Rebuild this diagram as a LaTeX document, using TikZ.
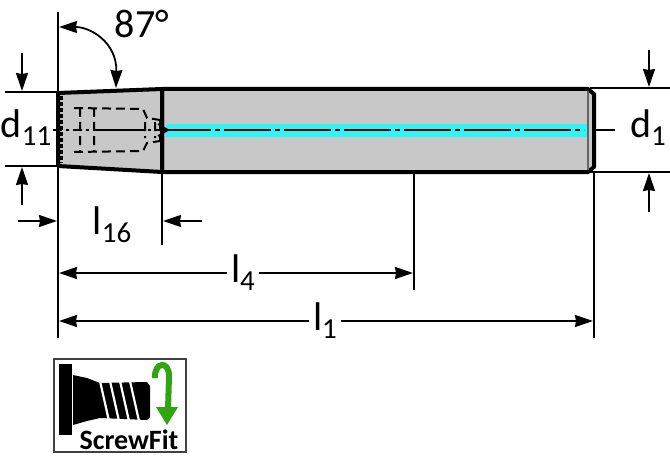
\documentclass[tikz,border=0pt]{standalone}
\usepackage{fontspec}
\setmainfont{Carlito}
\usetikzlibrary{arrows.meta}
\definecolor{bodygray}{HTML}{C8C8C8}
\definecolor{coolcyan}{HTML}{2FF5F5}
\definecolor{fitgreen}{HTML}{2FA50F}
\def\taperbody{(58,93) -- (162,89) -- (162,172) -- (58,166) -- cycle}
\def\shankbody{(162,89) -- (588,89) -- (594,94) -- (594,167) -- (588,172) -- (162,172) -- cycle}
\def\borehidden{(74,108) -- (143,109) -- (147,118) -- (160,120) (74,152) -- (143,151) -- (147,143) -- (160,141) (80,108) -- (80,152) (94,108) -- (94,152) (145,122) -- (145,138) (155,122) -- (155,138) (160,120) -- (160,141)}
\def\subtext#1{\raisebox{-8pt}{\fontsize{29}{29}\selectfont #1}}
\tikzset{
	dimline/.style={line width=1.8pt,draw=black},
	dimarrow/.style={line width=1.8pt,-{Stealth[length=18pt,width=12pt,inset=1pt]}},
	outline/.style={line width=4pt,line join=round},
	dimlabel/.style={font=\fontsize{40}{40}\selectfont,inner sep=4pt},
}
\begin{document}
\begin{tikzpicture}[x=1pt,y=-1pt]
\useasboundingbox (0,0) rectangle (670,460);
	\fill[bodygray] \taperbody;
	\fill[bodygray] \shankbody;
	% coolant channel
	\fill[coolcyan] (166,123.5) rectangle (588,136.5);
	\draw[line width=1.8pt,dash pattern=on 47pt off 4pt on 5pt off 4pt] (164,130) -- (584,130);
	\draw[line width=1.8pt] (596,130) -- (615,130);
	\draw[line width=1.7pt] (158,124) -- (168,130) -- (158,136);
	% hidden bore
	\draw[line width=2pt,dash pattern=on 9pt off 5pt] \borehidden;
	\draw[line width=1.6pt] (94,130) -- (135,130);
	\draw[line width=1.6pt,dash pattern=on 9pt off 4pt on 3pt off 4pt] (53,130) -- (94,130) (135,130) -- (162,130);
	% outline
	\draw[outline] \taperbody;
	\draw[outline] \shankbody;
	\draw[line width=2pt] (162,89) -- (162,172);
	\draw[line width=1.5pt,draw=black!60] (588,91) -- (588,170);
	\draw[line width=3pt,dash pattern=on 4pt off 2pt] (61,96) -- (61,163);
	% extension lines
	\draw[dimline] (58,12) -- (58,92) (58,166) -- (58,338);
	\draw[dimline] (5,92) -- (58,92) (5,166) -- (58,166);
	\draw[dimline] (590,88) -- (670,88) (590,172) -- (670,172);
	\draw[dimline] (162,172) -- (162,245) (414,172) -- (414,290) (594,172) -- (594,338);
	% angle
	\node[dimlabel] (angle) at (142,24) {87°};
	\coordinate (angleA) at (116,88);
	\coordinate (angleB) at (59,27);
	\draw[line width=1.8pt,{Stealth[length=18pt,width=12pt,inset=1pt]}-{Stealth[length=18pt,width=12pt,inset=1pt]}] (angleB) .. controls (90,27) and (117,42) .. (angleA);
	% d11
	\node[dimlabel] (dEleven) at (26,128) {d\subtext{11}};
	\coordinate (dElevenA) at (22,53);
	\coordinate (dElevenB) at (22,91);
	\coordinate (dElevenC) at (22,205);
	\coordinate (dElevenD) at (22,167);
	\draw[dimarrow] (dElevenA) -- (dElevenB);
	\draw[dimarrow] (dElevenC) -- (dElevenD);
	% l16
	\node[dimlabel] (lSixteen) at (112,225) {l\subtext{16}};
	\coordinate (lSixteenA) at (18,221);
	\coordinate (lSixteenB) at (57,221);
	\coordinate (lSixteenC) at (202,221);
	\coordinate (lSixteenD) at (163,221);
	\draw[dimarrow] (lSixteenA) -- (lSixteenB);
	\draw[dimarrow] (lSixteenC) -- (lSixteenD);
	% l4
	\node[dimlabel] (lFour) at (243,273) {l\subtext{4}};
	\coordinate (lFourA) at (59,273);
	\coordinate (lFourB) at (413,273);
	\draw[dimarrow] (lFour) -- (lFourA);
	\draw[dimarrow] (lFour) -- (lFourB);
	% l1
	\node[dimlabel] (lOne) at (325,321) {l\subtext{1}};
	\coordinate (lOneA) at (59,321);
	\coordinate (lOneB) at (593,321);
	\draw[dimarrow] (lOne) -- (lOneA);
	\draw[dimarrow] (lOne) -- (lOneB);
	% d1
	\node[dimlabel] (dOne) at (648,128) {d\subtext{1}};
	\coordinate (dOneA) at (649,50);
	\coordinate (dOneB) at (649,87);
	\coordinate (dOneC) at (649,212);
	\coordinate (dOneD) at (649,173);
	\draw[dimarrow] (dOneA) -- (dOneB);
	\draw[dimarrow] (dOneC) -- (dOneD);
	% ScrewFit icon
	\draw[line width=1.8pt,draw=black!75] (54,359) rectangle (186,452);
	\fill (59,364) rectangle (72,435);
	\fill (73,375) -- (87,378) -- (100,383) -- (147,382) -- (150,386) -- (150,417) -- (147,420) -- (100,418) -- (87,421) -- (73,425) -- cycle;
	\foreach \stripe in {100,110,120,130}
		\draw[white,line width=2.2pt] (\stripe,381) -- (\stripe+9,421);
	\draw[fitgreen,line width=6pt] (155,378) .. controls (154,362) and (169,360) .. (169,376) -- (168,410);
	\fill[fitgreen] (156,407) -- (178,407) -- (167,425) -- cycle;
	\node[font=\bfseries\fontsize{28}{28}\selectfont,inner sep=0pt] (screwFit) at (129,440) {ScrewFit};
\end{tikzpicture}
\end{document}
